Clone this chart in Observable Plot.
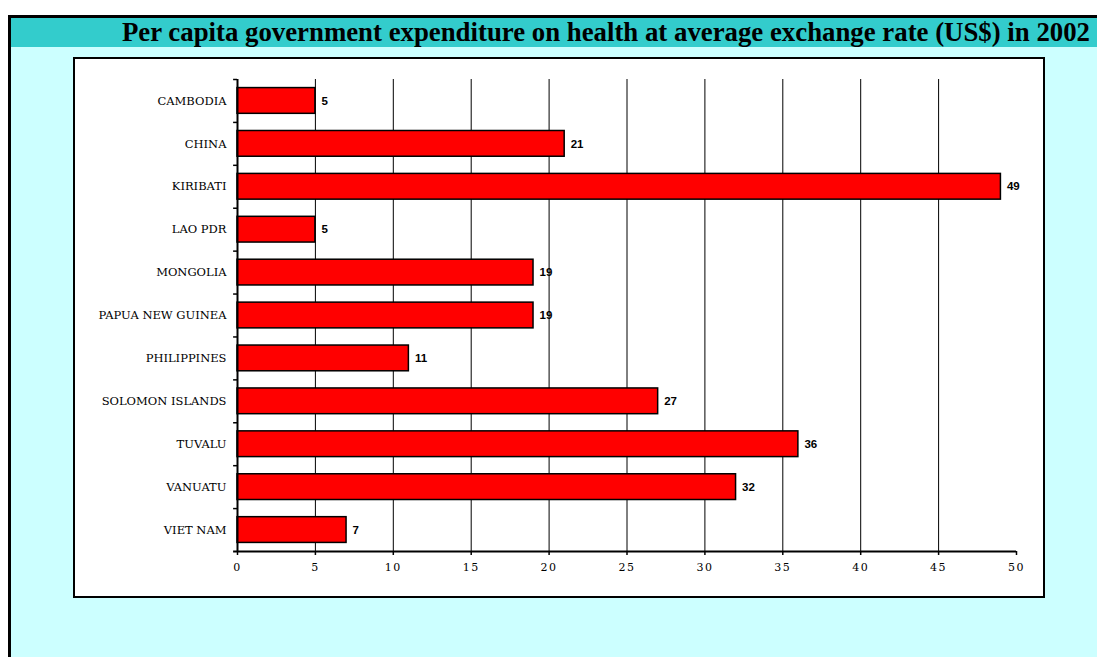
<!DOCTYPE html>
<html>
<head>
<meta charset="utf-8">
<script src="https://cdn.jsdelivr.net/npm/d3@7"></script>
<script src="https://cdn.jsdelivr.net/npm/@observablehq/plot@0.6"></script>
<style>
  body { margin: 0; background: #fff; width: 1097px; height: 657px; overflow: hidden; position: relative; }
  #frame { position: absolute; left: 8px; top: 15px; width: 1089px; height: 642px; border-left: 3px solid #000; border-top: 3px solid #000; background: #CCFFFF; }
  #title { position: absolute; left: 0; top: 0; right: 0; height: 29px; background: #33CCCC; font: bold 26.8px "Liberation Serif", serif; text-align: right; padding-right: 10px; line-height: 29px; color: #000; white-space: nowrap; }
  #box { position: absolute; left: 62px; top: 39px; width: 968px; height: 537px; background: #fff; border: 2px solid #000; }
  #box svg { display: block; }
  .xax text { letter-spacing: 1.5px; }
</style>
</head>
<body>
<div id="frame">
  <div id="title">Per capita government expenditure on health at average exchange rate (US$) in 2002</div>
  <div id="box"></div>
</div>
<script>
const categories = ["CAMBODIA", "CHINA", "KIRIBATI", "LAO PDR", "MONGOLIA", "PAPUA NEW GUINEA", "PHILIPPINES", "SOLOMON ISLANDS", "TUVALU", "VANUATU", "VIET NAM"];
const values = [5, 21, 49, 5, 19, 19, 11, 27, 36, 32, 7];
const xTicks = [0, 5, 10, 15, 20, 25, 30, 35, 40, 45, 50];
const gridTicks = [5, 10, 15, 20, 25, 30, 35, 40, 45];

const data = categories.map((c, i) => ({country: c, value: values[i]}));

const W = 968, H = 537, mL = 162, mR = 27, mT = 20, mB = 45;
const step = (H - mT - mB) / categories.length;

const chart = Plot.plot({
  width: W,
  height: H,
  marginLeft: mL,
  marginRight: mR,
  marginTop: mT,
  marginBottom: mB,
  style: {background: "transparent", fontFamily: "'DejaVu Serif', serif", fontSize: "11px", color: "#000", overflow: "visible"},
  x: {domain: [0, 50], ticks: xTicks, label: null},
  y: {domain: categories, paddingInner: 0.4, paddingOuter: 0.2, round: false, label: null},
  marks: [
    Plot.gridX(gridTicks, {stroke: "#000", strokeOpacity: 1, strokeWidth: 1}),
    Plot.barX(data, {y: "country", x: "value", fill: "#FF0000", stroke: "#000", strokeWidth: 1.5}),
    Plot.text(data, {y: "country", x: "value", text: d => String(d.value), textAnchor: "start", dx: 6, fontFamily: "'Liberation Sans', Arial, sans-serif", fontWeight: "bold", fontSize: 11.5, fill: "#000"}),
    Plot.axisY({tickSize: 0, tickPadding: 11, label: null, fontSize: 11.5}),
    Plot.ruleX([0], {stroke: "#000", strokeWidth: 2}),
    Plot.ruleY(categories, {y: d => d, x1: -0.25, x2: 0, dy: -step / 2, stroke: "#000", strokeWidth: 1.5}),
    Plot.ruleY([categories[categories.length - 1]], {y: d => d, x1: -0.25, x2: 50, dy: step / 2, stroke: "#000", strokeWidth: 2}),
    Plot.axisX(xTicks, {tickSize: 4, tickPadding: 8, label: null, fontSize: 11, strokeWidth: 1.5, className: "xax"})
  ]
});
document.getElementById("box").appendChild(chart);
</script>
</body>
</html>
